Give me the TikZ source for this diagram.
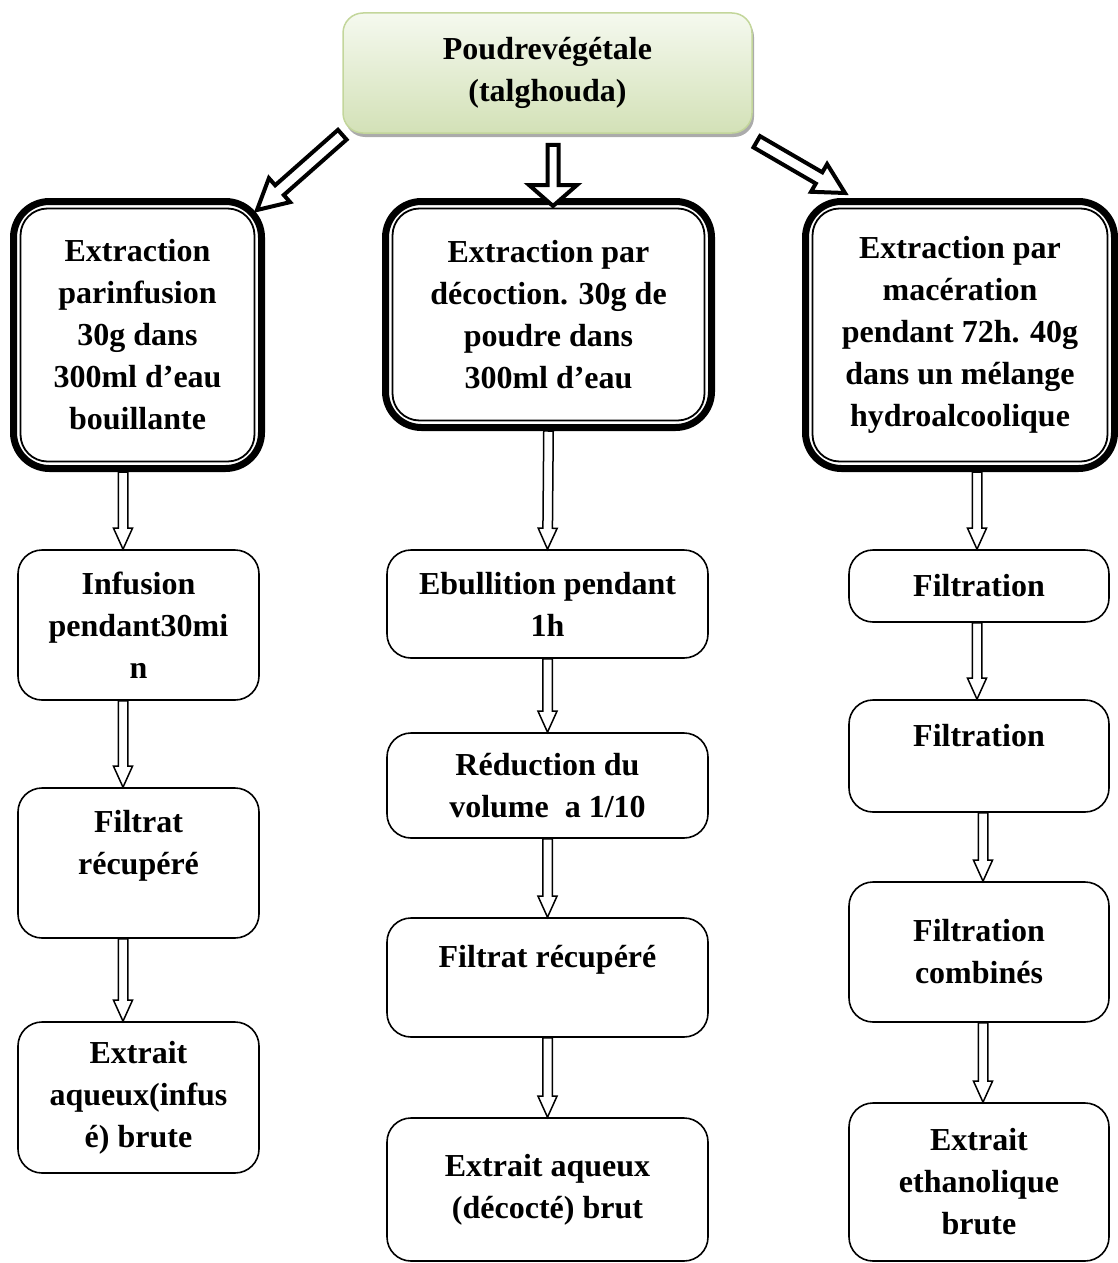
\documentclass[tikz,border=0pt]{standalone}
\usepackage{fontspec}
\setmainfont{Liberation Serif}
\usetikzlibrary{calc,shadows}

\definecolor{vertclair}{RGB}{245,249,239}
\definecolor{vertfonce}{RGB}{211,225,183}
\definecolor{vertbord}{RGB}{195,214,155}

% fleche creuse : [style]{depart}{arrivee}{demi-tige}{demi-tete}{longueur tete}
\newcommand{\fleche}[6][mince]{%
  \coordinate (fA) at #2;
  \coordinate (fB) at #3;
  \coordinate (fH) at ($(fB)!#6!(fA)$);
  \draw[#1] ($(fA)!#4!90:(fB)$) -- ($(fH)!#4!90:(fB)$) -- ($(fH)!#5!90:(fB)$) -- (fB)
    -- ($(fH)!#5!-90:(fB)$) -- ($(fH)!#4!-90:(fB)$) -- ($(fA)!#4!-90:(fB)$) -- cycle;
}

\begin{document}
\begin{tikzpicture}[x=1pt, y=-1pt, font=\fontsize{32}{42}\selectfont\bfseries, line join=miter,
  cadre/.style={draw, line width=7pt, rounded corners=36pt, inner sep=0pt, align=center},
  etape/.style={draw, line width=1.6pt, rounded corners=24pt, inner sep=0pt, align=center},
  mince/.style={draw, fill=white, line width=1.5pt},
  epaisse/.style={draw, fill=white, line width=4pt}]
\useasboundingbox (0,0) rectangle (1118,1263);

% plante
\node[draw=vertbord, line width=1.5pt, rounded corners=20pt, top color=vertclair, bottom color=vertfonce,
  drop shadow={shadow xshift=2pt, shadow yshift=-4pt, fill=black!55, opacity=0.6},
  minimum width=409pt, minimum height=120pt, inner sep=0pt, align=center] (poudre) at (547.5,73) {Poudrevégétale\\(talghouda)};

% les trois extractions
\node[cadre, minimum width=248pt, minimum height=267pt] (infusion) at (137.5,335) {Extraction\\parinfusion\\30g dans\\300ml d’eau\\bouillante};
\node[cadre, minimum width=326pt, minimum height=226pt] (decoction) at (548.5,314.5) {Extraction par\\décoction. 30g de\\poudre dans\\300ml d’eau};
\node[cadre, minimum width=309pt, minimum height=267pt] (maceration) at (960,335) {Extraction par\\macération\\pendant 72h. 40g\\dans un mélange\\hydroalcoolique};
\foreach \n in {infusion,decoction,maceration}
  \draw[line width=1.8pt, rounded corners=27pt] ($(\n.north west)+(10.5,10.5)$) rectangle ($(\n.south east)+(-10.5,-10.5)$);

% infusion
\node[etape, minimum width=241pt, minimum height=150pt] (infus) at (138.5,625) {Infusion\\pendant30mi\\n};
\node[etape, minimum width=241pt, minimum height=150pt] (filtratA) at (138.5,863) {Filtrat\\récupéré\\~};
\node[etape, minimum width=241pt, minimum height=151pt] (aqueuxA) at (138.5,1097.5) {Extrait\\aqueux(infus\\é) brute};

% decoction
\node[etape, minimum width=321pt, minimum height=108pt] (ebullition) at (547.5,604) {Ebullition pendant\\1h};
\node[etape, minimum width=321pt, minimum height=105pt] (reduction) at (547.5,785.5) {Réduction du\\volume~ a 1/10};
\node[etape, minimum width=321pt, minimum height=119pt] (filtratB) at (547.5,977.5) {Filtrat récupéré\\~};
\node[etape, minimum width=321pt, minimum height=143pt] (aqueuxB) at (547.5,1189.5) {Extrait aqueux\\(décocté) brut};

% maceration
\node[etape, minimum width=260pt, minimum height=72pt] (filtration1) at (979,586) {Filtration};
\node[etape, minimum width=260pt, minimum height=112pt] (filtration2) at (979,756) {Filtration\\~};
\node[etape, minimum width=260pt, minimum height=140pt] (combines) at (979,952) {Filtration\\combinés};
\node[etape, minimum width=260pt, minimum height=158pt] (ethanol) at (979,1182) {Extrait\\ethanolique\\brute};

% fleches du haut
\fleche[epaisse]{($(poudre.south west)+(0,1)$)}{($(infusion.north east)+(-8,12)$)}{6.5pt}{16pt}{30pt}
\fleche[epaisse]{($(poudre.south)+(5.5,11)$)}{($(decoction.north)+(4.5,8)$)}{5.5pt}{24pt}{21pt}
\fleche[epaisse]{($(poudre.south east)+(4,8)$)}{($(maceration.north west)+(43,-5)$)}{6.5pt}{16pt}{30pt}

% fleches des colonnes
\fleche{($(infusion.south)+(-14.5,0)$)}{($(infus.north)+(-15.5,0)$)}{4.75pt}{9.5pt}{21pt}
\fleche{($(infus.south)+(-15.5,0)$)}{($(filtratA.north)+(-15.5,0)$)}{4.75pt}{9.5pt}{21pt}
\fleche{($(filtratA.south)+(-15.5,0)$)}{($(aqueuxA.north)+(-15.5,0)$)}{4.75pt}{9.5pt}{21pt}
\fleche{(decoction.south)}{(ebullition.north)}{4.75pt}{9.5pt}{21pt}
\fleche{(ebullition.south)}{(reduction.north)}{4.75pt}{9.5pt}{21pt}
\fleche{(reduction.south)}{(filtratB.north)}{4.75pt}{9.5pt}{21pt}
\fleche{(filtratB.south)}{(aqueuxB.north)}{4.75pt}{9.5pt}{21pt}
\fleche{($(maceration.south)+(17,0)$)}{($(filtration1.north)+(-2,0)$)}{4.75pt}{9.5pt}{21pt}
\fleche{($(filtration1.south)+(-2,0)$)}{($(filtration2.north)+(-2,0)$)}{4.75pt}{9.5pt}{21pt}
\fleche{($(filtration2.south)+(4,0)$)}{($(combines.north)+(4,0)$)}{4.75pt}{9.5pt}{21pt}
\fleche{($(combines.south)+(4,0)$)}{($(ethanol.north)+(4,0)$)}{4.75pt}{9.5pt}{21pt}
\end{tikzpicture}
\end{document}
